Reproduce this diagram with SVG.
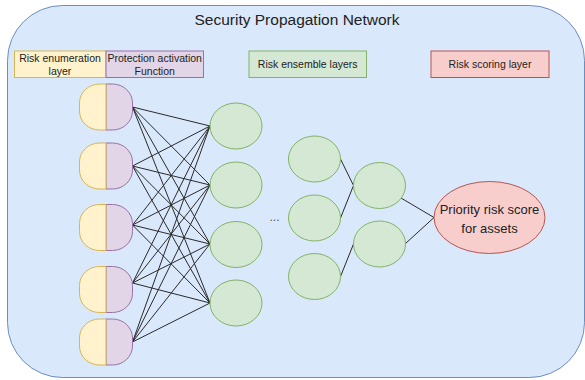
<svg xmlns="http://www.w3.org/2000/svg" xmlns:xlink="http://www.w3.org/1999/xlink" width="585" height="380" viewBox="0 0 585 380">
  <style>
    text { font-family: "Liberation Sans", Arial, sans-serif; fill: #222; text-anchor: middle; }
    .title { font-size: 15.5px; }
    .lbl { font-size: 10.5px; }
    .big { font-size: 13px; }
    .dots { font-size: 12px; fill: #555; }
    .yel { fill: #fff2cc; stroke: #d6b656; stroke-width: 1; }
    .pur { fill: #e1d5e7; stroke: #9673a6; stroke-width: 1; }
    .grn { fill: #d5e8d4; stroke: #82b366; stroke-width: 1; }
    .red { fill: #f8cecc; stroke: #b85450; stroke-width: 1; }
    .edges line { stroke: #2a2a2a; stroke-width: 1; }
  </style>
  <defs>
    <!-- input neuron: yellow left half, purple right half -->
    <g id="split">
      <path class="pur" d="M26.5,0 H33 A20,19 0 0 1 53,19 V27 A20,19 0 0 1 33,46 H26.5 Z"/>
      <path class="yel" d="M26.5,0 H20 A20,19 0 0 0 0,19 V27 A20,19 0 0 0 20,46 H26.5 Z"/>
    </g>
  </defs>

  <!-- panel -->
  <rect x="7.5" y="5.5" width="577" height="372" rx="55" ry="55" fill="#dae8fc" stroke="#6c8ebf" stroke-width="1"/>
  <text class="title" x="297" y="25">Security Propagation Network</text>

  <!-- legend boxes -->
  <g id="legend-enum">
    <rect class="yel" x="14.5" y="51" width="91.5" height="26.5"/>
    <text class="lbl" x="60" y="62">Risk enumeration</text>
    <text class="lbl" x="60" y="74.5">layer</text>
  </g>
  <g id="legend-activation">
    <rect class="pur" x="106" y="51" width="97.5" height="26.5"/>
    <text class="lbl" x="154.7" y="62">Protection activation</text>
    <text class="lbl" x="154.7" y="74.5">Function</text>
  </g>
  <g id="legend-ensemble">
    <rect class="grn" x="249" y="51" width="117.5" height="26.5"/>
    <text class="lbl" x="307.7" y="68">Risk ensemble layers</text>
  </g>
  <g id="legend-scoring">
    <rect class="red" x="431" y="51" width="118" height="26.5"/>
    <text class="lbl" x="490" y="68">Risk scoring layer</text>
  </g>

  <!-- connectors -->
  <g class="edges" id="edges">
    <!-- input layer to first ensemble layer (fully connected) -->
    <line x1="132.5" y1="107" x2="210" y2="126"/>
    <line x1="132.5" y1="107" x2="210" y2="185"/>
    <line x1="132.5" y1="107" x2="210" y2="244"/>
    <line x1="132.5" y1="107" x2="210" y2="303"/>
    <line x1="132.5" y1="166" x2="210" y2="126"/>
    <line x1="132.5" y1="166" x2="210" y2="185"/>
    <line x1="132.5" y1="166" x2="210" y2="244"/>
    <line x1="132.5" y1="166" x2="210" y2="303"/>
    <line x1="132.5" y1="225" x2="210" y2="126"/>
    <line x1="132.5" y1="225" x2="210" y2="185"/>
    <line x1="132.5" y1="225" x2="210" y2="244"/>
    <line x1="132.5" y1="225" x2="210" y2="303"/>
    <line x1="132.5" y1="283" x2="210" y2="126"/>
    <line x1="132.5" y1="283" x2="210" y2="185"/>
    <line x1="132.5" y1="283" x2="210" y2="244"/>
    <line x1="132.5" y1="283" x2="210" y2="303"/>
    <line x1="132.5" y1="342" x2="210" y2="126"/>
    <line x1="132.5" y1="342" x2="210" y2="185"/>
    <line x1="132.5" y1="342" x2="210" y2="244"/>
    <line x1="132.5" y1="342" x2="210" y2="303"/>
    <!-- later ensemble layers -->
    <line x1="340.5" y1="159" x2="353.5" y2="185.5"/>
    <line x1="340.5" y1="218" x2="353.5" y2="185.5"/>
    <line x1="340.5" y1="276.5" x2="353.5" y2="244"/>
    <!-- to the scoring node -->
    <line x1="401" y1="198" x2="434" y2="217.5"/>
    <line x1="405.5" y1="243.5" x2="434" y2="217.5"/>
  </g>

  <!-- input neurons -->
  <g id="in-1"><use xlink:href="#split" href="#split" x="79.5" y="84"/></g>
  <g id="in-2"><use xlink:href="#split" href="#split" x="79.5" y="143"/></g>
  <g id="in-3"><use xlink:href="#split" href="#split" x="79.5" y="204.5"/></g>
  <g id="in-4"><use xlink:href="#split" href="#split" x="79.5" y="266.5"/></g>
  <g id="in-5"><use xlink:href="#split" href="#split" x="79.5" y="319"/></g>

  <!-- first ensemble layer -->
  <g id="h1-1"><ellipse class="grn" cx="236" cy="126" rx="26" ry="23"/></g>
  <g id="h1-2"><ellipse class="grn" cx="236" cy="185" rx="26" ry="23"/></g>
  <g id="h1-3"><ellipse class="grn" cx="236" cy="244.5" rx="26" ry="23"/></g>
  <g id="h1-4"><ellipse class="grn" cx="236" cy="303" rx="26" ry="23"/></g>

  <text class="dots" x="274.5" y="221">...</text>

  <!-- second ensemble layer -->
  <g id="h2-1"><ellipse class="grn" cx="314.5" cy="159" rx="26" ry="23"/></g>
  <g id="h2-2"><ellipse class="grn" cx="314.5" cy="218" rx="26" ry="23"/></g>
  <g id="h2-3"><ellipse class="grn" cx="314.5" cy="276.5" rx="26" ry="23"/></g>

  <!-- third ensemble layer -->
  <g id="h3-1"><ellipse class="grn" cx="379.5" cy="185.5" rx="26" ry="23"/></g>
  <g id="h3-2"><ellipse class="grn" cx="379.5" cy="244" rx="26" ry="23"/></g>

  <!-- output -->
  <g id="score">
    <ellipse class="red" cx="489.5" cy="217.5" rx="55.5" ry="36"/>
    <text class="big" x="489.5" y="214">Priority risk score</text>
    <text class="big" x="489.5" y="232.5">for assets</text>
  </g>
</svg>
